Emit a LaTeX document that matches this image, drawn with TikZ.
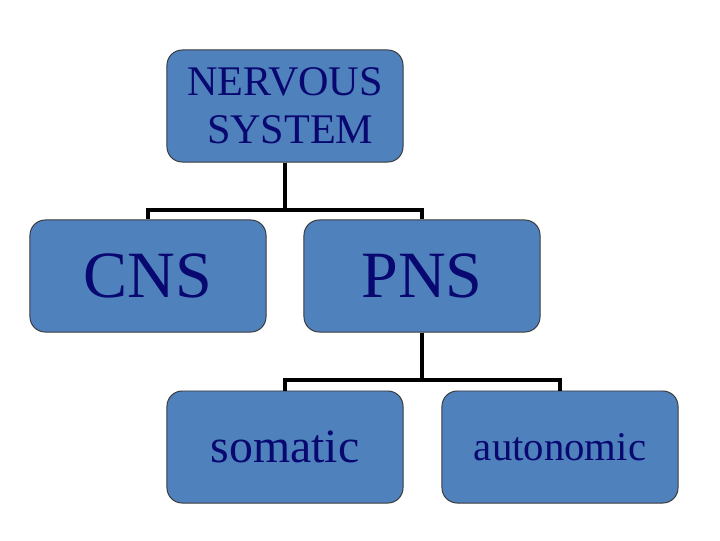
\documentclass[tikz,border=0pt]{standalone}
\usepackage{fontspec}
\setmainfont{Liberation Serif}
\usetikzlibrary{positioning,calc}
\definecolor{boxblue}{HTML}{4F81BD}
\definecolor{textnavy}{HTML}{080870}
\definecolor{boxedge}{HTML}{3A3A3A}
\begin{document}
\begin{tikzpicture}[x=0.025cm,y=-0.025cm,
    main node/.style={draw=boxedge,line width=0.7pt,fill=boxblue,rounded corners=0.38cm,
      text=textnavy,minimum width=5.9cm,minimum height=2.8cm,inner sep=0pt,align=center},
    link/.style={line width=2.6pt}
                      ]
   \useasboundingbox (0,0) rectangle (720,540);
   \node[main node,font=\fontsize{30}{34}\selectfont] (ns) at (285,106) {NERVOUS\\ \ SYSTEM};
   \node[main node,font=\fontsize{47}{52}\selectfont] (cns) at (148,276) {CNS};
   \node[main node,font=\fontsize{47}{52}\selectfont] (pns) at (422,276) {PNS};
   \node[main node,font=\fontsize{34}{40}\selectfont] (som) at (285,447) {\raisebox{-4pt}{somatic}};
   \node[main node,font=\fontsize{29}{34}\selectfont] (aut) at (560,447) {autonomic};
   \coordinate (j1) at (285,210);
   \coordinate (j2) at (422,380);
   \draw[link] (ns.south) -- (j1) -| (cns.north);
   \draw[link] (j1) -| (pns.north);
   \draw[link] (pns.south) -- (j2) -| (som.north);
   \draw[link] (j2) -| (aut.north);
  \end{tikzpicture}
\end{document}
